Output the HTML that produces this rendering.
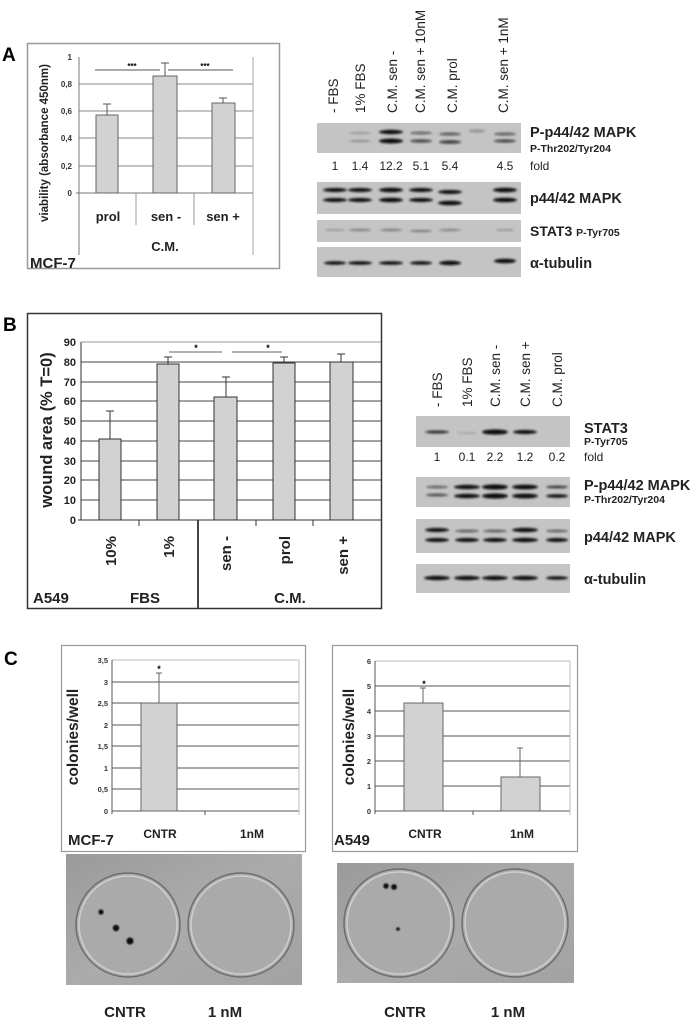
<!DOCTYPE html>
<html><head><meta charset="utf-8"><style>
html,body{margin:0;padding:0;background:#fff}
svg{display:block}
text{font-family:"Liberation Sans",Arial,sans-serif}
.b{font-weight:bold}
</style></head><body>
<svg width="700" height="1032" viewBox="0 0 700 1032" xmlns="http://www.w3.org/2000/svg">
<defs>
<filter id="bl" x="-20%" y="-100%" width="140%" height="300%"><feGaussianBlur stdDeviation="1.1"/></filter>
<filter id="bl2"><feGaussianBlur stdDeviation="0.8"/></filter>
<linearGradient id="pl" x1="0" y1="0" x2="1" y2="1"><stop offset="0" stop-color="#9a9a9a"/><stop offset="0.5" stop-color="#ababab"/><stop offset="1" stop-color="#a2a2a2"/></linearGradient>
</defs>

<!-- ===== PANEL A ===== -->
<text x="2" y="61" class="b" font-size="19">A</text>
<rect x="27.5" y="43.5" width="252" height="225" fill="#fff" stroke="#999" stroke-width="1.5"/>
<g stroke="#888" stroke-width="1">
<line x1="79" y1="84" x2="253" y2="84"/><line x1="79" y1="111" x2="253" y2="111"/>
<line x1="79" y1="138" x2="253" y2="138"/><line x1="79" y1="166" x2="253" y2="166"/>
</g>
<line x1="79" y1="57" x2="79" y2="255" stroke="#777"/>
<line x1="253" y1="57" x2="253" y2="255" stroke="#aaa"/>
<line x1="76" y1="193" x2="253" y2="193" stroke="#777"/>
<line x1="136" y1="193" x2="136" y2="225" stroke="#999"/>
<line x1="194" y1="193" x2="194" y2="225" stroke="#999"/>
<g font-size="8" class="b" text-anchor="end" fill="#333">
<text x="72" y="60">1</text><text x="72" y="87">0,8</text><text x="72" y="114">0,6</text>
<text x="72" y="141">0,4</text><text x="72" y="169">0,2</text><text x="72" y="196">0</text></g>
<g fill="#d2d2d2" stroke="#666">
<rect x="96" y="115" width="22" height="78"/><rect x="153" y="76" width="24" height="117"/><rect x="212" y="103" width="23" height="90"/></g>
<g stroke="#555"><line x1="107" y1="115" x2="107" y2="104"/><line x1="103" y1="104" x2="111" y2="104"/>
<line x1="165" y1="76" x2="165" y2="63"/><line x1="161" y1="63" x2="169" y2="63"/>
<line x1="223" y1="103" x2="223" y2="98"/><line x1="219" y1="98" x2="227" y2="98"/>
<line x1="95" y1="70" x2="160" y2="70"/><line x1="168" y1="70" x2="233" y2="70"/></g>
<text x="132" y="69" font-size="8" class="b" text-anchor="middle">***</text>
<text x="205" y="69" font-size="8" class="b" text-anchor="middle">***</text>
<text transform="translate(48,143) rotate(-90)" font-size="11.5" class="b" text-anchor="middle" fill="#222">viability (absorbance 450nm)</text>
<g font-size="13" class="b" text-anchor="middle" fill="#222">
<text x="108" y="221">prol</text><text x="166" y="221">sen -</text><text x="223" y="221">sen +</text>
<text x="165" y="251">C.M.</text></g>
<text x="30" y="268" font-size="15" class="b" fill="#222">MCF-7</text>

<!-- Blot A lane labels -->
<g font-size="13.5" fill="#222">
<text transform="translate(338,113) rotate(-90)">- FBS</text>
<text transform="translate(365,113) rotate(-90)">1% FBS</text>
<text transform="translate(397,113) rotate(-90)">C.M. sen -</text>
<text transform="translate(425,113) rotate(-90)">C.M. sen + 10nM</text>
<text transform="translate(457,113) rotate(-90)">C.M. prol</text>
<text transform="translate(508,113) rotate(-90)">C.M. sen + 1nM</text>
</g>
<!-- Blots A -->
<g fill="#c4c4c4"><rect x="317" y="123" width="204" height="30"/><rect x="317" y="182" width="204" height="32"/>
<rect x="317" y="220" width="204" height="22"/><rect x="317" y="247" width="204" height="30"/></g>
<g filter="url(#bl)" fill="#111">
<ellipse cx="360" cy="133" rx="11" ry="1" opacity=".25"/><ellipse cx="360" cy="141" rx="11" ry="1" opacity=".3"/>
<ellipse cx="391" cy="132" rx="12" ry="2.2"/><ellipse cx="391" cy="141" rx="12" ry="2.5"/>
<ellipse cx="421" cy="133" rx="11" ry="1.3" opacity=".6"/><ellipse cx="421" cy="141" rx="11" ry="1.6" opacity=".7"/>
<ellipse cx="450" cy="134" rx="11" ry="1.5" opacity=".6"/><ellipse cx="450" cy="142" rx="11" ry="1.8" opacity=".75"/>
<ellipse cx="477" cy="131" rx="8" ry="1.3" opacity=".35"/>
<ellipse cx="505" cy="134" rx="11" ry="1.4" opacity=".6"/><ellipse cx="505" cy="141" rx="11" ry="1.6" opacity=".7"/>
</g>
<g filter="url(#bl)" fill="#111">
<ellipse cx="335" cy="190" rx="12" ry="2"/><ellipse cx="335" cy="200" rx="12" ry="2"/>
<ellipse cx="360" cy="190" rx="12" ry="2"/><ellipse cx="360" cy="200" rx="12" ry="2"/>
<ellipse cx="391" cy="190" rx="12" ry="2.3"/><ellipse cx="391" cy="200" rx="12" ry="2.3"/>
<ellipse cx="421" cy="190" rx="12" ry="2"/><ellipse cx="421" cy="200" rx="12" ry="2"/>
<ellipse cx="450" cy="192" rx="12" ry="2"/><ellipse cx="450" cy="203" rx="12" ry="2.3"/>
<ellipse cx="505" cy="190" rx="12" ry="2.3"/><ellipse cx="505" cy="200" rx="12" ry="2.3"/>
</g>
<g filter="url(#bl)" fill="#222">
<ellipse cx="335" cy="230" rx="10" ry="0.8" opacity=".3"/><ellipse cx="360" cy="230" rx="11" ry="1" opacity=".5"/>
<ellipse cx="391" cy="230" rx="11" ry="1" opacity=".5"/><ellipse cx="421" cy="231" rx="11" ry="1" opacity=".5"/>
<ellipse cx="450" cy="230" rx="11" ry="1" opacity=".45"/><ellipse cx="505" cy="230" rx="9" ry="0.8" opacity=".35"/>
</g>
<g filter="url(#bl)" fill="#111">
<ellipse cx="335" cy="263" rx="11" ry="1.8"/><ellipse cx="360" cy="263" rx="12" ry="1.8"/>
<ellipse cx="391" cy="263" rx="12" ry="1.8"/><ellipse cx="421" cy="263" rx="11" ry="1.8"/>
<ellipse cx="450" cy="263" rx="11" ry="2.2"/><ellipse cx="505" cy="261" rx="11" ry="2.3"/>
</g>
<g font-size="12" fill="#222" text-anchor="middle">
<text x="335" y="170">1</text><text x="360" y="170">1.4</text><text x="391" y="170">12.2</text>
<text x="421" y="170">5.1</text><text x="450" y="170">5.4</text><text x="505" y="170">4.5</text></g>
<g fill="#222" class="b">
<text x="530" y="137" font-size="14.5">P-p44/42 MAPK</text>
<text x="530" y="152" font-size="10.5">P-Thr202/Tyr204</text>
<text x="530" y="170" font-size="12" font-weight="normal">fold</text>
<text x="530" y="203" font-size="14.5">p44/42 MAPK</text>
<text x="530" y="236" font-size="14">STAT3 <tspan font-size="10.5">P-Tyr705</tspan></text>
<text x="530" y="268" font-size="14.5">α-tubulin</text>
</g>

<!-- ===== PANEL B ===== -->
<text x="3" y="331" class="b" font-size="19">B</text>
<rect x="27.5" y="313.5" width="354" height="295" fill="#fff" stroke="#333" stroke-width="1.5"/>
<g stroke="#444" stroke-width="1">
<line x1="81" y1="342" x2="381" y2="342" stroke="#999"/>
<line x1="81" y1="362" x2="381" y2="362"/><line x1="81" y1="382" x2="381" y2="382"/>
<line x1="81" y1="401" x2="381" y2="401"/><line x1="81" y1="421" x2="381" y2="421"/>
<line x1="81" y1="441" x2="381" y2="441"/><line x1="81" y1="461" x2="381" y2="461"/>
<line x1="81" y1="480" x2="381" y2="480"/><line x1="81" y1="500" x2="381" y2="500"/>
</g>
<line x1="81" y1="342" x2="81" y2="520" stroke="#333"/>
<line x1="78" y1="520" x2="381" y2="520" stroke="#333"/>
<g stroke="#333"><line x1="139" y1="520" x2="139" y2="526"/><line x1="256" y1="520" x2="256" y2="526"/><line x1="313" y1="520" x2="313" y2="526"/></g>
<line x1="198" y1="520" x2="198" y2="608" stroke="#444" stroke-width="2"/>
<g font-size="11" class="b" text-anchor="end" fill="#222">
<text x="76" y="346">90</text><text x="76" y="366">80</text><text x="76" y="386">70</text><text x="76" y="405">60</text>
<text x="76" y="425">50</text><text x="76" y="445">40</text><text x="76" y="465">30</text><text x="76" y="484">20</text>
<text x="76" y="504">10</text><text x="76" y="524">0</text></g>
<g fill="#d2d2d2" stroke="#333">
<rect x="99" y="439" width="22" height="81"/><rect x="157" y="364" width="22" height="156"/>
<rect x="214" y="397" width="23" height="123"/><rect x="273" y="363" width="22" height="157"/>
<rect x="330" y="362" width="23" height="158"/></g>
<g stroke="#333"><line x1="110" y1="439" x2="110" y2="411"/><line x1="106" y1="411" x2="114" y2="411"/>
<line x1="168" y1="364" x2="168" y2="357"/><line x1="164" y1="357" x2="172" y2="357"/>
<line x1="226" y1="397" x2="226" y2="377"/><line x1="222" y1="377" x2="230" y2="377"/>
<line x1="284" y1="363" x2="284" y2="357"/><line x1="280" y1="357" x2="288" y2="357"/>
<line x1="341" y1="362" x2="341" y2="354"/><line x1="337" y1="354" x2="345" y2="354"/>
<line x1="169" y1="352" x2="222" y2="352" stroke="#666"/><line x1="232" y1="352" x2="282" y2="352" stroke="#666"/></g>
<text x="196" y="351" font-size="9" class="b" text-anchor="middle">*</text>
<text x="268" y="351" font-size="9" class="b" text-anchor="middle">*</text>
<text transform="translate(52,430) rotate(-90)" font-size="16.5" class="b" text-anchor="middle" fill="#222">wound area (% T=0)</text>
<g font-size="15" class="b" fill="#222" text-anchor="end">
<text transform="translate(116,536) rotate(-90)">10%</text>
<text transform="translate(174,536) rotate(-90)">1%</text>
<text transform="translate(231,536) rotate(-90)">sen -</text>
<text transform="translate(290,536) rotate(-90)">prol</text>
<text transform="translate(348,536) rotate(-90)">sen +</text></g>
<g font-size="15" class="b" fill="#222">
<text x="33" y="603">A549</text><text x="145" y="603" text-anchor="middle">FBS</text><text x="290" y="603" text-anchor="middle">C.M.</text></g>

<!-- Blot B -->
<g font-size="13.5" fill="#222">
<text transform="translate(442,407) rotate(-90)">- FBS</text>
<text transform="translate(472,407) rotate(-90)">1% FBS</text>
<text transform="translate(500,407) rotate(-90)">C.M. sen -</text>
<text transform="translate(530,407) rotate(-90)">C.M. sen +</text>
<text transform="translate(562,407) rotate(-90)">C.M. prol</text></g>
<g fill="#c4c4c4"><rect x="416" y="416" width="154" height="31"/><rect x="416" y="477" width="154" height="30"/>
<rect x="416" y="519" width="154" height="34"/><rect x="416" y="564" width="154" height="29"/></g>
<g filter="url(#bl)" fill="#111">
<ellipse cx="437" cy="432" rx="12" ry="1.6" opacity=".8"/><ellipse cx="467" cy="433" rx="10" ry="0.8" opacity=".2"/>
<ellipse cx="495" cy="432" rx="13" ry="2.6"/><ellipse cx="525" cy="432" rx="12" ry="2"/>
<ellipse cx="437" cy="487" rx="11" ry="1.2" opacity=".6"/><ellipse cx="437" cy="495" rx="11" ry="1.4" opacity=".7"/>
<ellipse cx="467" cy="487" rx="13" ry="2.2"/><ellipse cx="467" cy="496" rx="13" ry="2.2"/>
<ellipse cx="495" cy="487" rx="13" ry="2.6"/><ellipse cx="495" cy="496" rx="13" ry="2.6"/>
<ellipse cx="525" cy="487" rx="13" ry="2.4"/><ellipse cx="525" cy="496" rx="13" ry="2.4"/>
<ellipse cx="557" cy="487" rx="11" ry="1.4" opacity=".8"/><ellipse cx="557" cy="496" rx="11" ry="1.8"/>
<ellipse cx="437" cy="530" rx="12" ry="2"/><ellipse cx="437" cy="540" rx="12" ry="2"/>
<ellipse cx="467" cy="531" rx="12" ry="1.3" opacity=".6"/><ellipse cx="467" cy="540" rx="12" ry="2"/>
<ellipse cx="495" cy="531" rx="12" ry="1.3" opacity=".6"/><ellipse cx="495" cy="540" rx="12" ry="2"/>
<ellipse cx="525" cy="530" rx="13" ry="2.2"/><ellipse cx="525" cy="540" rx="13" ry="2.2"/>
<ellipse cx="557" cy="531" rx="11" ry="1.2" opacity=".6"/><ellipse cx="557" cy="540" rx="11" ry="2"/>
<ellipse cx="437" cy="578" rx="13" ry="2.2"/><ellipse cx="467" cy="578" rx="13" ry="2.2"/>
<ellipse cx="495" cy="578" rx="13" ry="2.2"/><ellipse cx="525" cy="578" rx="13" ry="2.2"/>
<ellipse cx="557" cy="578" rx="11" ry="1.8"/>
</g>
<g font-size="12" fill="#222" text-anchor="middle">
<text x="437" y="461">1</text><text x="467" y="461">0.1</text><text x="495" y="461">2.2</text>
<text x="525" y="461">1.2</text><text x="557" y="461">0.2</text></g>
<g fill="#222" class="b">
<text x="584" y="433" font-size="14.5">STAT3</text>
<text x="584" y="445" font-size="10.5">P-Tyr705</text>
<text x="584" y="461" font-size="12" font-weight="normal">fold</text>
<text x="584" y="490" font-size="14.5">P-p44/42 MAPK</text>
<text x="584" y="503" font-size="10.5">P-Thr202/Tyr204</text>
<text x="584" y="542" font-size="14.5">p44/42 MAPK</text>
<text x="584" y="584" font-size="14.5">α-tubulin</text></g>

<!-- ===== PANEL C ===== -->
<text x="4" y="665" class="b" font-size="19">C</text>
<!-- chart 1 -->
<rect x="61.5" y="645.5" width="244" height="206" fill="#fff" stroke="#999" stroke-width="1.2"/>
<g stroke="#555"><line x1="112" y1="682" x2="299" y2="682"/><line x1="112" y1="703" x2="299" y2="703"/>
<line x1="112" y1="725" x2="299" y2="725"/><line x1="112" y1="746" x2="299" y2="746"/>
<line x1="112" y1="768" x2="299" y2="768"/><line x1="112" y1="789" x2="299" y2="789"/></g>
<line x1="112" y1="660" x2="299" y2="660" stroke="#bbb"/>
<line x1="112" y1="660" x2="112" y2="814" stroke="#555"/>
<line x1="112" y1="811" x2="299" y2="811" stroke="#555"/>
<line x1="205" y1="811" x2="205" y2="815" stroke="#555"/><line x1="299" y1="660" x2="299" y2="815" stroke="#bbb"/>
<g font-size="7.5" class="b" text-anchor="end" fill="#333">
<text x="108" y="663">3,5</text><text x="108" y="685">3</text><text x="108" y="706">2,5</text><text x="108" y="728">2</text>
<text x="108" y="749">1,5</text><text x="108" y="771">1</text><text x="108" y="792">0,5</text><text x="108" y="814">0</text></g>
<rect x="141" y="703" width="36" height="108" fill="#d2d2d2" stroke="#666"/>
<g stroke="#666"><line x1="159" y1="703" x2="159" y2="673"/><line x1="156" y1="673" x2="162" y2="673"/></g>
<text x="159" y="672" font-size="9" class="b" text-anchor="middle">*</text>
<text transform="translate(78,737) rotate(-90)" font-size="15.5" class="b" text-anchor="middle" fill="#222">colonies/well</text>
<g font-size="12" class="b" fill="#222" text-anchor="middle"><text x="160" y="838">CNTR</text><text x="252" y="838">1nM</text></g>
<text x="68" y="845" font-size="15" class="b" fill="#222">MCF-7</text>

<!-- chart 2 -->
<rect x="332.5" y="645.5" width="245" height="206" fill="#fff" stroke="#999" stroke-width="1.2"/>
<g stroke="#555"><line x1="375" y1="686" x2="570" y2="686"/><line x1="375" y1="711" x2="570" y2="711"/>
<line x1="375" y1="736" x2="570" y2="736"/><line x1="375" y1="761" x2="570" y2="761"/><line x1="375" y1="786" x2="570" y2="786"/></g>
<line x1="375" y1="661" x2="570" y2="661" stroke="#bbb"/>
<line x1="375" y1="661" x2="375" y2="814" stroke="#555"/>
<line x1="375" y1="811" x2="570" y2="811" stroke="#555"/>
<line x1="473" y1="811" x2="473" y2="815" stroke="#555"/><line x1="570" y1="661" x2="570" y2="815" stroke="#bbb"/>
<g font-size="7.5" class="b" text-anchor="end" fill="#333">
<text x="371" y="664">6</text><text x="371" y="689">5</text><text x="371" y="714">4</text><text x="371" y="739">3</text>
<text x="371" y="764">2</text><text x="371" y="789">1</text><text x="371" y="814">0</text></g>
<rect x="404" y="703" width="39" height="108" fill="#d2d2d2" stroke="#666"/>
<rect x="501" y="777" width="39" height="34" fill="#d2d2d2" stroke="#666"/>
<g stroke="#666"><line x1="423" y1="703" x2="423" y2="688"/><line x1="420" y1="688" x2="426" y2="688"/>
<line x1="520" y1="777" x2="520" y2="748"/><line x1="517" y1="748" x2="523" y2="748"/></g>
<text x="424" y="687" font-size="9" class="b" text-anchor="middle">*</text>
<text transform="translate(354,737) rotate(-90)" font-size="15.5" class="b" text-anchor="middle" fill="#222">colonies/well</text>
<g font-size="12" class="b" fill="#222" text-anchor="middle"><text x="425" y="838">CNTR</text><text x="522" y="838">1nM</text></g>
<text x="334" y="845" font-size="15" class="b" fill="#222">A549</text>

<!-- plate photos -->
<rect x="66" y="854" width="236" height="131" fill="url(#pl)"/>
<g fill="#aaaaaa" stroke="#6e6e6e" stroke-width="1.5">
<ellipse cx="128" cy="925" rx="52" ry="52"/><ellipse cx="241" cy="925" rx="53" ry="52"/></g>
<g fill="none" stroke="#cfcfcf" stroke-width="1.5"><ellipse cx="128" cy="925" rx="49" ry="49"/><ellipse cx="241" cy="925" rx="50" ry="49"/></g>
<g fill="#111" filter="url(#bl2)"><circle cx="101" cy="912" r="2.6"/><circle cx="116" cy="928" r="3.2"/><circle cx="130" cy="941" r="3.5"/></g>

<rect x="337" y="863" width="237" height="120" fill="url(#pl)"/>
<g fill="#aaaaaa" stroke="#6e6e6e" stroke-width="1.5">
<ellipse cx="399" cy="923" rx="55" ry="54"/><ellipse cx="515" cy="923" rx="53" ry="54"/></g>
<g fill="none" stroke="#cfcfcf" stroke-width="1.5"><ellipse cx="399" cy="923" rx="52" ry="51"/><ellipse cx="515" cy="923" rx="50" ry="51"/></g>
<g fill="#111" filter="url(#bl2)"><circle cx="386" cy="886" r="2.7"/><circle cx="394" cy="887" r="2.9"/><circle cx="398" cy="929" r="1.8"/></g>

<g font-size="15" class="b" fill="#222" text-anchor="middle">
<text x="125" y="1017">CNTR</text><text x="225" y="1017">1 nM</text>
<text x="405" y="1017">CNTR</text><text x="508" y="1017">1 nM</text></g>
</svg>
</body></html>
